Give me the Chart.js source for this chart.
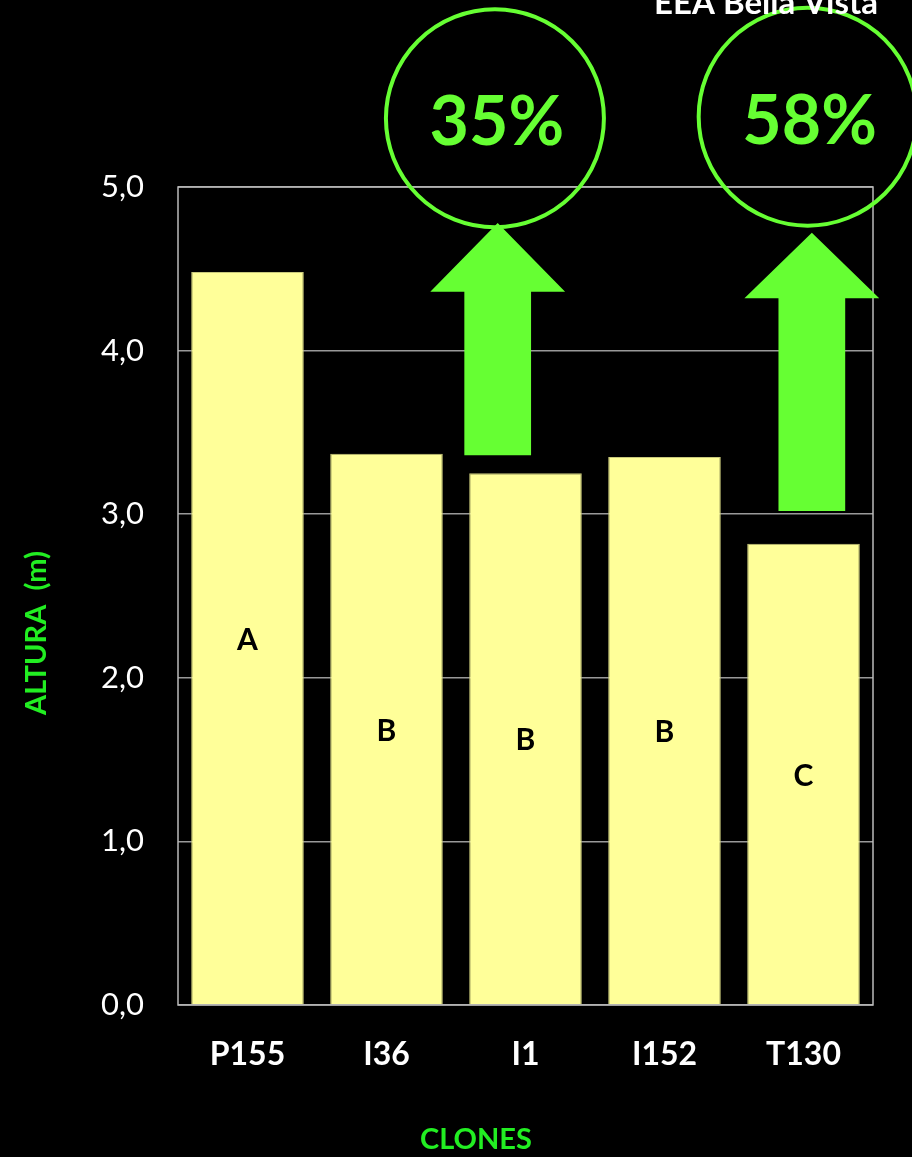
<!DOCTYPE html>
<html>
<head>
<meta charset="utf-8">
<script src="https://cdn.jsdelivr.net/npm/chart.js@4"></script>
<style>
  html, body { margin: 0; padding: 0; background: #000; }
  #wrap { width: 912px; height: 1157px; }
</style>
</head>
<body>
<div id="wrap"><canvas id="alturaChart" width="912" height="1157"></canvas></div>
<script>
// Altura de clones - EEA Bella Vista
const clones = ['P155', 'I36', 'I1', 'I152', 'T130'];
const alturas = [4.48, 3.37, 3.25, 3.35, 2.82];
const letras = ['A', 'B', 'B', 'B', 'C'];
const yTicks = [0, 1, 2, 3, 4, 5];

// flechas de ganancia: posición en categorías y valores del eje
const ganancias = [
    { texto: '35%', x: 1.8, desde: 3.36, base: 4.36, punta: 4.78, cx: 1.78, cy: 5.42 },
    { texto: '58%', x: 4.06, desde: 3.02, base: 4.32, punta: 4.72, cx: 4.03, cy: 5.43 }
];

const verde = '#66ff33';
const verdeTitulo = '#22ee22';
const fuente = 'Lato, "Open Sans", sans-serif';

const extras = {
    id: 'extras',
    afterDatasetsDraw(chart) {
        const ctx = chart.ctx;
        const area = chart.chartArea;
        const xs = chart.scales.x;
        const ys = chart.scales.y;
        const paso = xs.getPixelForValue(1) - xs.getPixelForValue(0);
        const px = v => xs.getPixelForValue(0) + v * paso;

        ctx.save();
        // marco del área
        ctx.strokeStyle = '#bbbbbb';
        ctx.lineWidth = 1.5;
        ctx.strokeRect(area.left, area.top, area.right - area.left, area.bottom - area.top);

        // letras dentro de las barras
        const meta = chart.getDatasetMeta(0);
        ctx.fillStyle = '#000';
        ctx.font = 'bold 30px ' + fuente;
        ctx.textAlign = 'center';
        ctx.textBaseline = 'middle';
        meta.data.forEach((bar, i) => {
            ctx.fillText(letras[i], bar.x, (bar.y + bar.base) / 2 + 2);
        });

        // flechas y círculos
        ganancias.forEach(g => {
            const cx = px(g.x);
            const medioCabeza = paso * 0.485;
            const medioAsta = paso * 0.24;
            ctx.fillStyle = verde;
            ctx.beginPath();
            ctx.moveTo(cx - medioAsta, ys.getPixelForValue(g.desde));
            ctx.lineTo(cx - medioAsta, ys.getPixelForValue(g.base));
            ctx.lineTo(cx - medioCabeza, ys.getPixelForValue(g.base));
            ctx.lineTo(cx, ys.getPixelForValue(g.punta));
            ctx.lineTo(cx + medioCabeza, ys.getPixelForValue(g.base));
            ctx.lineTo(cx + medioAsta, ys.getPixelForValue(g.base));
            ctx.lineTo(cx + medioAsta, ys.getPixelForValue(g.desde));
            ctx.closePath();
            ctx.fill();

            const ccx = px(g.cx);
            const ccy = ys.getPixelForValue(g.cy);
            ctx.strokeStyle = verde;
            ctx.lineWidth = 4;
            ctx.beginPath();
            ctx.arc(ccx, ccy, 109, 0, Math.PI * 2);
            ctx.stroke();

            ctx.font = 'bold 68px ' + fuente;
            ctx.textAlign = 'center';
            ctx.textBaseline = 'middle';
            ctx.fillText(g.texto, ccx + 2, ccy + 5);
        });

        // títulos de ejes
        ctx.fillStyle = verdeTitulo;
        ctx.font = 'bold 29px ' + fuente;
        ctx.textAlign = 'center';
        ctx.textBaseline = 'middle';
        ctx.fillText('CLONES', 476, 1140);
        ctx.save();
        ctx.translate(37, 633);
        ctx.rotate(-Math.PI / 2);
        ctx.fillText('ALTURA  (m)', 0, 0);
        ctx.restore();

        // título superior (recortado)
        ctx.fillStyle = '#fff';
        ctx.font = 'bold 33px ' + fuente;
        ctx.textAlign = 'center';
        ctx.textBaseline = 'alphabetic';
        ctx.fillText('EEA Bella Vista', 766, 14);
        ctx.restore();
    }
};

const ctx = document.getElementById('alturaChart').getContext('2d');
const chart = new Chart(ctx, {
    type: 'bar',
    data: {
        labels: clones,
        datasets: [{
            data: alturas,
            backgroundColor: '#ffff99',
            borderColor: '#c8c87a',
            borderWidth: 1,
            barPercentage: 0.81,
            categoryPercentage: 1
        }]
    },
    options: {
        responsive: false,
        animation: false,
        events: [],
        layout: { padding: { left: 14, top: 187, right: 39, bottom: 4 } },
        plugins: { legend: { display: false }, tooltip: { enabled: false } },
        scales: {
            x: {
                grid: { display: false, drawTicks: false },
                border: { display: false },
                ticks: { color: '#fff', font: { family: fuente, size: 32, weight: 'bold' }, padding: 30 },
                afterFit(scale) { scale.height = 148; }
            },
            y: {
                min: 0,
                max: 5,
                afterBuildTicks(scale) { scale.ticks = yTicks.map(v => ({ value: v })); },
                grid: { color: '#999', lineWidth: 1.5, drawTicks: false },
                border: { display: false },
                ticks: {
                    color: '#fff',
                    font: { family: fuente, size: 31 },
                    padding: 34,
                    callback: v => v.toFixed(1).replace('.', ',')
                },
                afterFit(scale) { scale.width = 164; }
            }
        }
    },
    plugins: [extras]
});
</script>
</body>
</html>
